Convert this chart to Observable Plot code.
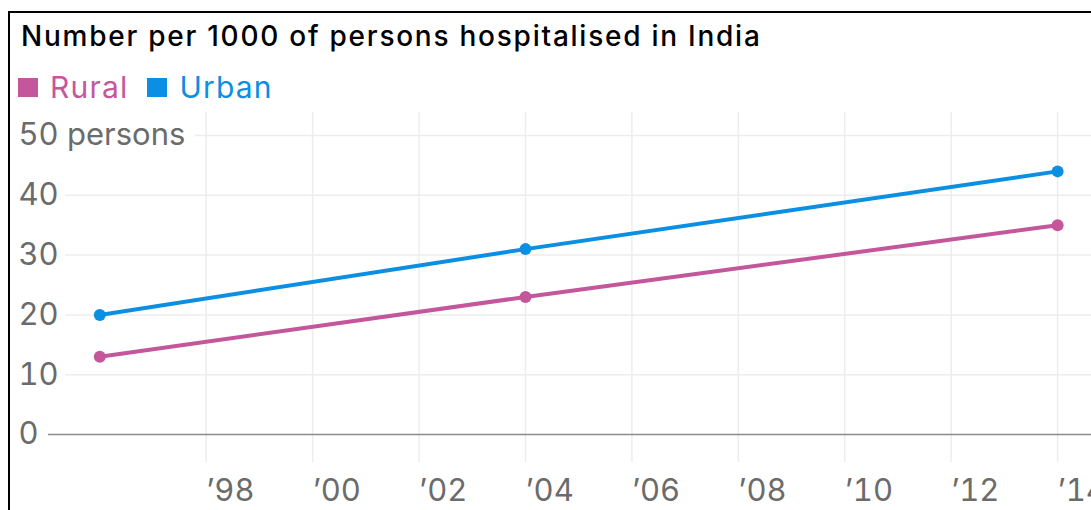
<!DOCTYPE html>
<html>
<head>
<meta charset="utf-8">
<script src="https://cdn.jsdelivr.net/npm/d3@7"></script>
<script src="https://cdn.jsdelivr.net/npm/@observablehq/plot@0.6"></script>
<style>
  html, body { margin: 0; padding: 0; background: #fff; }
  body { width: 1091px; height: 510px; overflow: hidden; position: relative; font-family: Inter, "Noto Sans", sans-serif; }
  .frame { position: absolute; left: 8px; top: 11px; width: 1200px; height: 600px;
           border-top: 2px solid #000; border-left: 2px solid #000; }
  .title { position: absolute; left: 21px; top: 22px; font-size: 28px; line-height: 28px;
           font-weight: 500; letter-spacing: 1.75px; color: #000; white-space: nowrap; }
  .legend { position: absolute; left: 18px; top: 72px; display: flex; align-items: center;
            font-size: 30px; line-height: 30px; letter-spacing: 1.2px; white-space: nowrap; }
  .legend .item { display: flex; align-items: center; margin-right: 19px; }
  .legend .sw { width: 20px; height: 19px; margin-right: 12px; }
  #chart { position: absolute; left: 0; top: 100px; }
</style>
</head>
<body>
<div class="frame"></div>
<div class="title">Number per 1000 of persons hospitalised in India</div>
<div class="legend" id="legend"></div>
<div id="chart"></div>
<script>
// Survey years and hospitalisation rates (persons per 1000)
const years = [1996, 2004, 2014];
const rural = [13, 23, 35];
const urban = [20, 31, 44];
const seriesNames = ["Rural", "Urban"];
const seriesColors = ["#c4569b", "#0a8fe3"];
const xTicks = [1998, 2000, 2002, 2004, 2006, 2008, 2010, 2012, 2014];
const yTicks = [0, 10, 20, 30, 40, 50];

const valuesBySeries = { Rural: rural, Urban: urban };
const rows = seriesNames.flatMap(name =>
  years.map((year, i) => ({ series: name, year, value: valuesBySeries[name][i] }))
);

// Legend
const legend = document.getElementById("legend");
seriesNames.forEach((name, i) => {
  const item = document.createElement("div");
  item.className = "item";
  item.style.color = seriesColors[i];
  const sw = document.createElement("span");
  sw.className = "sw";
  sw.style.background = seriesColors[i];
  item.appendChild(sw);
  item.appendChild(document.createTextNode(name));
  legend.appendChild(item);
});

const gridColor = "#ededed";

const chart = Plot.plot({
  width: 1110,
  height: 420,
  marginLeft: 65,
  marginRight: 0,
  marginTop: 12,
  marginBottom: 58,
  x: { domain: [1996, 2014], range: [99.3, 1057.1], label: null },
  y: { domain: [0, 50], range: [334, 35], label: null },
  color: { domain: seriesNames, range: seriesColors },
  style: { fontFamily: "Inter, 'Noto Sans', sans-serif", fontSize: "31px", color: "#6b6b6b", background: "transparent", maxWidth: "none", overflow: "visible" },
  marks: [
    Plot.ruleX(xTicks, { stroke: gridColor, strokeWidth: 1.5 }),
    Plot.ruleY(yTicks.filter(d => d > 0 && d < 50), { stroke: gridColor, strokeWidth: 1.5 }),
    Plot.ruleY(yTicks.filter(d => d === 50), { stroke: gridColor, strokeWidth: 1.5, insetLeft: 130 }),
    Plot.ruleY([0], { stroke: "#8c8c8c", strokeWidth: 1.5, insetLeft: -17 }),
    Plot.axisY(yTicks, {
      tickSize: 0, tickPadding: 0, textAnchor: "start", dx: -47,
      tickFormat: d => d === 50 ? "50 persons" : String(d),
      fill: "#6b6b6b", fontSize: 31
    }),
    Plot.axisX(xTicks, {
      tickSize: 0, tickPadding: 16, textAnchor: "start",
      tickFormat: d => "\u2019" + String(d).slice(2),
      fill: "#6b6b6b", fontSize: 31
    }),
    Plot.line(rows, { x: "year", y: "value", z: "series", stroke: "series", strokeWidth: 4 }),
    Plot.dot(rows, { x: "year", y: "value", fill: "series", r: 6 })
  ]
});
document.getElementById("chart").appendChild(chart);
</script>
</body>
</html>
